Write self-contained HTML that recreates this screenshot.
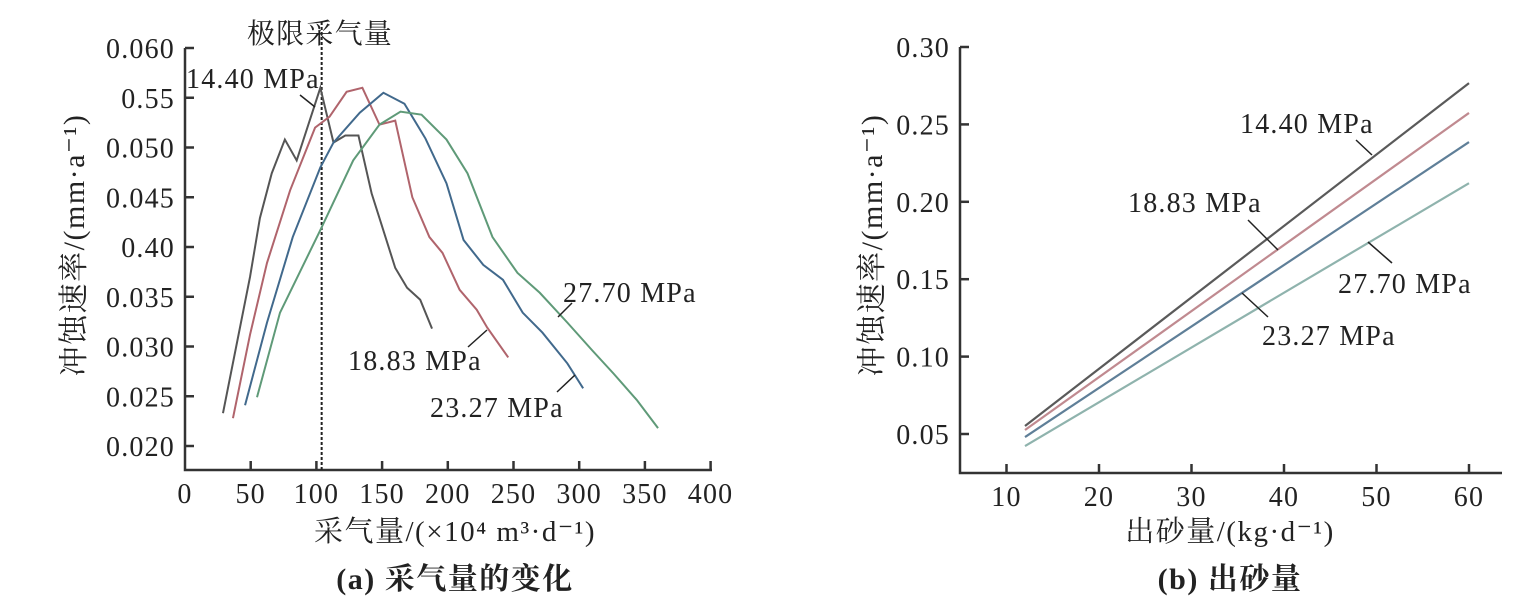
<!DOCTYPE html>
<html><head><meta charset="utf-8"><style>
body{margin:0;background:#fff}
svg{display:block}
text{font-family:"Liberation Serif","Noto Serif CJK SC",serif;fill:#222}
</style></head><body>
<svg id="s" width="1532" height="607"></svg>
<script>
// ---- chart (a) data ----
const aSeries = ["14.40 MPa","18.83 MPa","23.27 MPa","27.70 MPa"];
const aX1 = [28.9,49.5,57,66,76,85,103,113,122,132,142,160,169,179,188];
const aY1 = [0.0233,0.0370,0.0429,0.0474,0.0508,0.0487,0.0560,0.0505,0.0512,0.0512,0.0454,0.0379,0.0359,0.0347,0.0318];
const aX2 = [36.5,49.5,62.4,80,99,110,123,135,148,160,173,186,196,209,222,230,246];
const aY2 = [0.0228,0.0312,0.0384,0.0457,0.0520,0.0531,0.0556,0.0560,0.0523,0.0527,0.0450,0.0410,0.0394,0.0357,0.0337,0.0319,0.0289];
const aX3 = [45.7,62.4,82,103,113,133,151,167,183,199,212,227,242,257,272,291,303];
const aY3 = [0.0241,0.0324,0.0410,0.0480,0.0505,0.0535,0.0555,0.0544,0.0509,0.0464,0.0407,0.0382,0.0367,0.0334,0.0314,0.0283,0.0258];
const aX4 = [54.8,72.3,103,128,148,164,180,199,215,234,253,270,291,310,326,344,360];
const aY4 = [0.0249,0.0334,0.0417,0.0487,0.0523,0.0536,0.0533,0.0508,0.0474,0.0410,0.0374,0.0354,0.0324,0.0296,0.0273,0.0246,0.0218];
const aXTicks = [0,50,100,150,200,250,300,350,400];
const aYTicks = [0.020,0.025,0.030,0.035,0.040,0.045,0.050,0.055,0.060];
const aYTickLabels = ["0.020","0.025","0.030","0.035","0.40","0.045","0.050","0.55","0.060"];
const aLimit = 104;
// ---- chart (b) data ----
const bX = [12,60];
const bY1 = [0.0552,0.2767];
const bY2 = [0.0526,0.2574];
const bY3 = [0.0480,0.2386];
const bY4 = [0.0422,0.2120];
const bXTicks = [10,20,30,40,50,60];
const bYTicks = [0.05,0.10,0.15,0.20,0.25,0.30];
const bYTickLabels = ["0.05","0.10","0.15","0.20","0.25","0.30"];

const NS="http://www.w3.org/2000/svg", svg=document.getElementById('s');
function el(t,a,p){const e=document.createElementNS(NS,t);for(const k in a)e.setAttribute(k,a[k]);(p||svg).appendChild(e);return e;}
function txt(s,x,y,o,p){const e=el('text',Object.assign({x:x,y:y},o||{}),p);e.textContent=s;return e;}
const colors=["#555555","#b0646c","#41698c","#5f9a78"];
const bColors=["#5a5a5a","#c08a90","#5f7f98","#8fb3ad"];
const TS={'font-size':28,'letter-spacing':1.2};
const T=(extra)=>Object.assign({},TS,extra||{});

// chart a axes
const ax=v=>185+v*1.314, ay=v=>48+(0.060-v)/0.001*9.95;
const ga=el('g',{});  
let l=el('path',{d:'M185 48 V470 H712',fill:'none',stroke:'#333','stroke-width':2.5},ga);
 
aYTicks.forEach((v,i)=>{el('line',{x1:185,x2:194,y1:ay(v),y2:ay(v),stroke:'#333','stroke-width':2.5},ga);
 const t=txt(aYTickLabels[i],175,ay(v)+10,T({'text-anchor':'end'}),ga);
  });
aXTicks.forEach(v=>{if(v>0)el('line',{x1:ax(v),x2:ax(v),y1:470,y2:461,stroke:'#333','stroke-width':2.5},ga);
 const t=txt(String(v),ax(v),503,T({'text-anchor':'middle'}),ga);
  });
l=el('line',{x1:ax(aLimit),x2:ax(aLimit),y1:22,y2:470,stroke:'#222','stroke-width':2,'stroke-dasharray':'3,2'},ga);
 
l=txt('极限采气量',320,43,T({'text-anchor':'middle'}),ga);
 
[[aX1,aY1],[aX2,aY2],[aX3,aY3],[aX4,aY4]].forEach((s,i)=>{
 const p=el('polyline',{points:s[0].map((x,j)=>ax(x)+','+ay(s[1][j])).join(' '),fill:'none',stroke:colors[i],'stroke-width':2},ga);
 
 });
[[aSeries[0],186,88,300,95,315,107],[aSeries[1],348,370,468,347,487,330],[aSeries[2],430,417,557,392,575,375],[aSeries[3],563,302,558,317,572,303]].forEach(d=>{
 el('line',{x1:d[3],y1:d[4],x2:d[5],y2:d[6],stroke:'#222','stroke-width':1.5},ga);
 const t=txt(d[0],d[1],d[2],T(),ga);
  });
l=txt('冲蚀速率/(mm·a⁻¹)',0,0,{'font-size':30,'letter-spacing':1.5,'text-anchor':'middle',transform:'translate(84,245) rotate(-90)'},ga);
 
l=txt('采气量/(×10⁴ m³·d⁻¹)',455,541,{'font-size':29,'letter-spacing':1.5,'text-anchor':'middle'},ga);
 
l=txt('(a) 采气量的变化',455,589,{'font-size':30,'letter-spacing':1.5,'text-anchor':'middle','font-weight':'bold'},ga);
 

// chart b
const bx=v=>1006.5+(v-10)*9.25, by=v=>434-(v-0.05)/0.05*77.4;
const gb=el('g',{});  
l=el('path',{d:'M960 47 V473 H1502',fill:'none',stroke:'#333','stroke-width':2.5},gb);
 
bYTicks.forEach((v,i)=>{el('line',{x1:960,x2:969,y1:by(v),y2:by(v),stroke:'#333','stroke-width':2.5},gb);
 const t=txt(bYTickLabels[i],950,by(v)+10,T({'text-anchor':'end'}),gb);
  });
bXTicks.forEach(v=>{el('line',{x1:bx(v),x2:bx(v),y1:473,y2:464,stroke:'#333','stroke-width':2.5},gb);
 const t=txt(String(v),bx(v),506,T({'text-anchor':'middle'}),gb);
  });
[bY1,bY2,bY3,bY4].forEach((s,i)=>{
 const p=el('polyline',{points:bX.map((x,j)=>bx(x)+','+by(s[j])).join(' '),fill:'none',stroke:bColors[i],'stroke-width':2.2},gb);
 
 });
[[aSeries[0],1240,133,1356,140,1372,155],[aSeries[1],1128,212,1248,220,1278,250],[aSeries[3],1338,293,1368,242,1392,263],[aSeries[2],1262,345,1242,293,1268,317]].forEach(d=>{
 el('line',{x1:d[3],y1:d[4],x2:d[5],y2:d[6],stroke:'#222','stroke-width':1.5},gb);
 const t=txt(d[0],d[1],d[2],T(),gb);
  });
l=txt('冲蚀速率/(mm·a⁻¹)',0,0,{'font-size':30,'letter-spacing':1.5,'text-anchor':'middle',transform:'translate(882,245) rotate(-90)'},gb);
 
l=txt('出砂量/(kg·d⁻¹)',1230,541,{'font-size':29,'letter-spacing':1.5,'text-anchor':'middle'},gb);
 
l=txt('(b) 出砂量',1230,589,{'font-size':30,'letter-spacing':1.5,'text-anchor':'middle','font-weight':'bold'},gb);
 
</script>
</body></html>
